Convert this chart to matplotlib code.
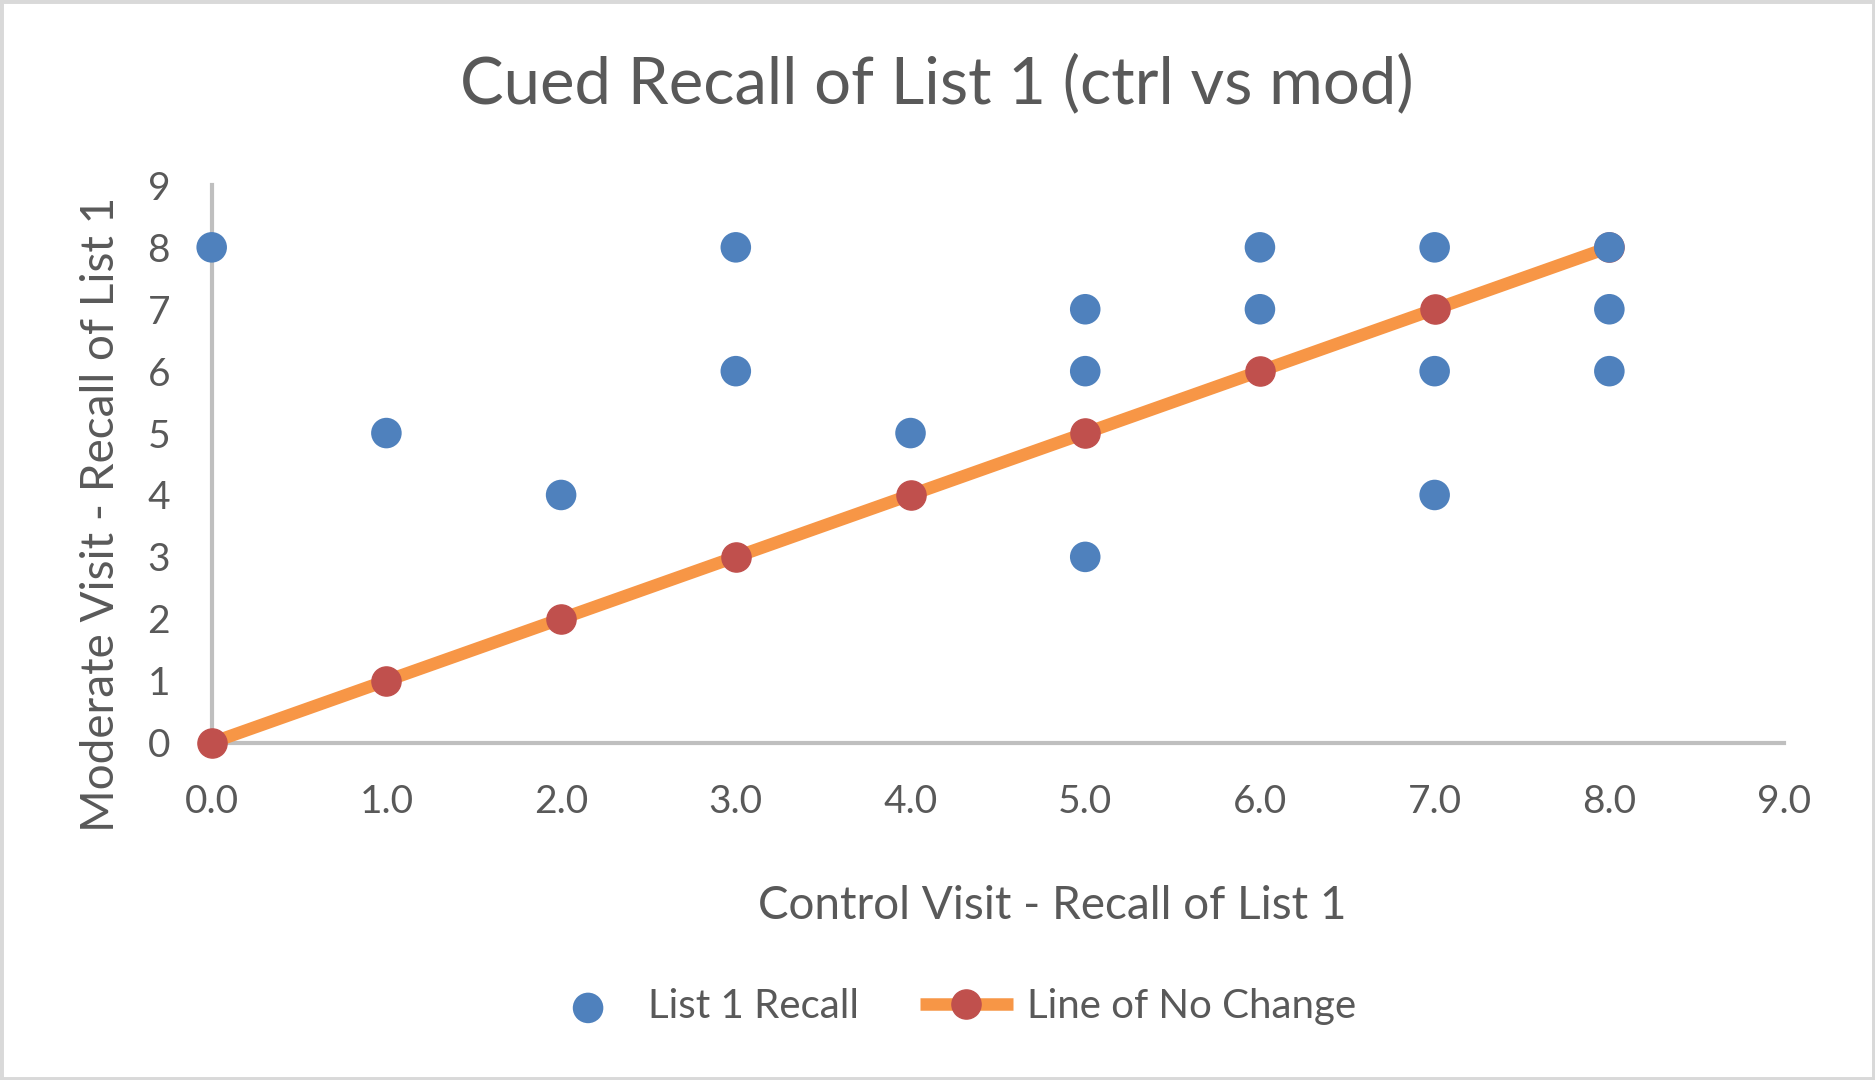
import numpy as np
import matplotlib
matplotlib.use("Agg")
import matplotlib.pyplot as plt
from matplotlib.patches import Rectangle

# Data
ctrl_recall = [0, 1, 2, 3, 3, 4, 5, 5, 5, 6, 6, 7, 7, 7, 8, 8, 8]
mod_recall = [8, 5, 4, 8, 6, 5, 7, 6, 3, 8, 7, 8, 6, 4, 8, 7, 6]
no_change_x = [0, 1, 2, 3, 4, 5, 6, 7, 8]
no_change_y = [0, 1, 2, 3, 4, 5, 6, 7, 8]
x_ticks = [0, 1, 2, 3, 4, 5, 6, 7, 8, 9]
y_ticks = [0, 1, 2, 3, 4, 5, 6, 7, 8, 9]

blue = "#4F81BD"
red = "#C0504D"
orange = "#F79646"
grey_txt = "#595959"
axis_grey = "#BFBFBF"

plt.rcParams["font.family"] = ["Lato", "DejaVu Sans"]

fig = plt.figure(figsize=(18.75, 10.8), dpi=100)
ax = fig.add_axes([0.1129, 0.3124, 0.8386, 0.5159])

# Line of no change drawn first, recall points on top
ax.plot(no_change_x, no_change_y, color=orange, linewidth=9,
        marker="o", markersize=21, markerfacecolor=red, markeredgecolor=red,
        solid_capstyle="butt", label="Line of No Change", zorder=3, clip_on=False)
ax.scatter(ctrl_recall, mod_recall, s=22 ** 2, color=blue, edgecolors="none",
           label="List 1 Recall", zorder=4, clip_on=False)

ax.set_xlim(0, 9)
ax.set_ylim(0, 9)
ax.set_xticks(x_ticks)
ax.set_xticklabels([f"{v:.1f}" for v in x_ticks])
ax.set_yticks(y_ticks)
ax.tick_params(length=0, labelsize=28, labelcolor=grey_txt)
ax.tick_params(axis="x", pad=30)
ax.tick_params(axis="y", pad=30)

for s in ["top", "right"]:
    ax.spines[s].set_visible(False)
for s in ["left", "bottom"]:
    ax.spines[s].set_color(axis_grey)
    ax.spines[s].set_linewidth(3)

fig.text(0.4997, 0.922, "Cued Recall of List 1 (ctrl vs mod)", ha="center", va="center",
         fontsize=47, color=grey_txt)
fig.text(0.561, 0.161, "Control Visit - Recall of List 1", ha="center", va="center",
         fontsize=33, color=grey_txt)
fig.text(0.054, 0.524, "Moderate Visit - Recall of List 1", ha="center", va="center",
         rotation=90, fontsize=33, color=grey_txt)

handles, labels = ax.get_legend_handles_labels()
ax.legend(handles[::-1], labels[::-1], loc="center", bbox_to_anchor=(0.506, 0.0676),
          bbox_transform=fig.transFigure, ncol=2, frameon=False, fontsize=29,
          labelcolor=grey_txt, handlelength=2.3, handletextpad=0.35, columnspacing=1.5)

# light border round the chart
fig.patches.append(Rectangle((0, 0), 1, 1, transform=fig.transFigure, fill=False,
                             edgecolor="#D9D9D9", linewidth=5))

fig.savefig("out.png", dpi=100)
